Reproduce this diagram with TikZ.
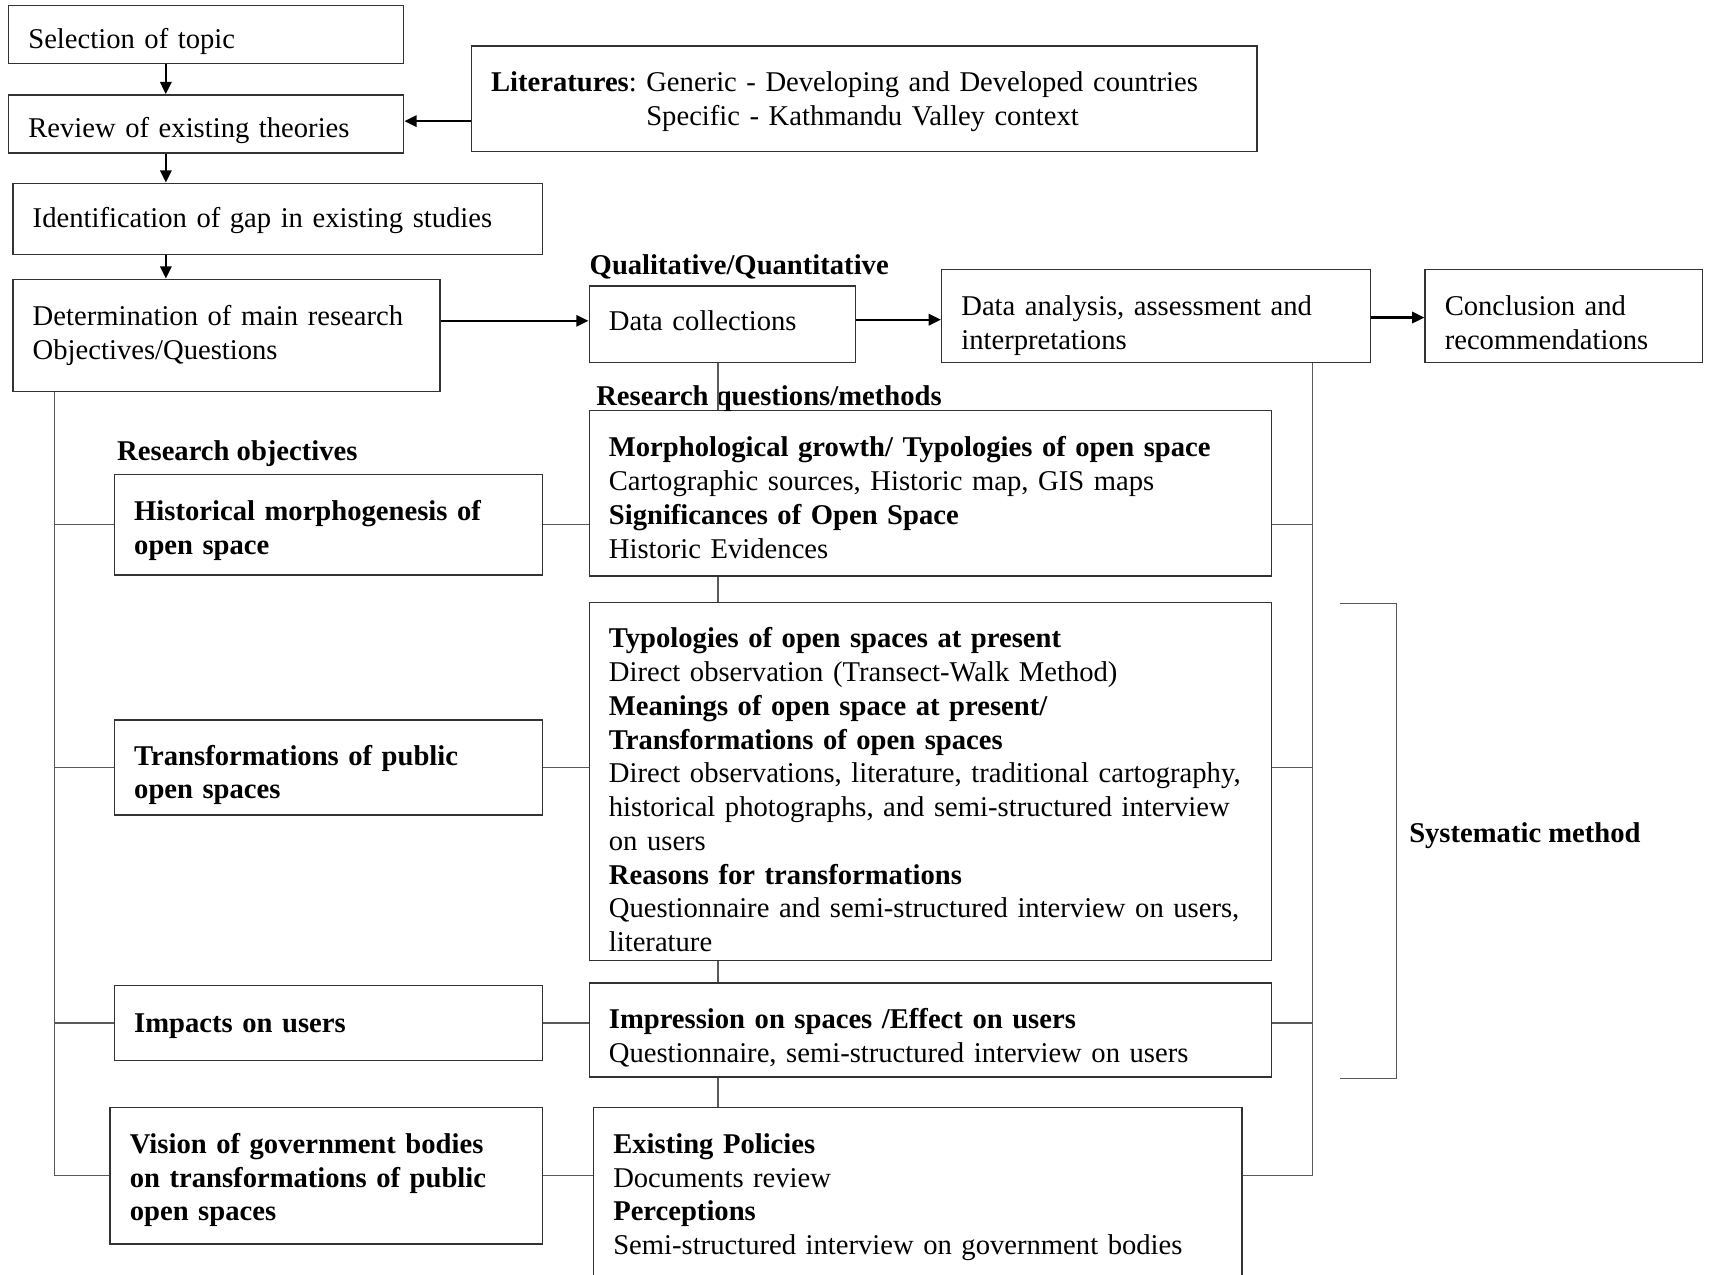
\documentclass[tikz,border=0pt]{standalone}
\usepackage{fontspec}
\setmainfont{Liberation Serif}
\usetikzlibrary{arrows.meta}

% box given by its corners (x1,y1)-(x2,y2), text set flush left with 18-unit padding
\newcommand\flowbox[7][]{%
  \node[box,#1,
        minimum width={(#5-#3)*0.446pt},
        minimum height={(#6-#4)*0.446pt},
        text width={(#5-#3-36)*0.446pt}]
        (#2) at ({(#3+#5)/2},{(#4+#6)/2}) {#7};%
}

\begin{document}
\frenchspacing
\begin{tikzpicture}[x=0.446pt,y=-0.446pt,
  txt/.style={font=\fontsize{11.7}{13.8}\selectfont\frenchspacing},
  boldtxt/.style={font=\fontsize{11.7}{13.8}\selectfont\frenchspacing\bfseries},
  box/.style={txt,draw=black!80,line width=0.6pt,rectangle,
              inner xsep=8.03pt,inner ysep=0pt,align=left,
              execute at begin node={\hyphenpenalty=10000}},
  % a taller text box above the first baseline sets the text lower in its frame
  drop/.style={text height=#1},
  heading/.style={boldtxt,anchor=west,inner sep=0pt},
  arr/.style={line width=1pt,-{Triangle[length=5pt,width=4.6pt]}},
  link/.style={draw=black!65,line width=0.5pt}]

\clip (0,0) rectangle (1568,1168);
\fill[white] (0,0) rectangle (1568,1168);

% main sequence
\flowbox[drop=14.3pt]{A}{8}{5}{370}{58}{Selection of topic}
\flowbox[drop=13.5pt]{B}{8}{87}{370}{140}{Review of existing theories}
\flowbox[drop=9.9pt]{C}{12}{168}{497}{233}{Identification of gap in existing studies}
\flowbox{D}{12}{256}{403}{359}{Determination of main research\\Objectives/Questions}
\flowbox[drop=10.8pt]{Lit}{432}{42}{1152}{139}{\textbf{Literatures}: Generic - Developing and Developed countries\\
  \phantom{\textbf{Literatures}:~}Specific - Kathmandu Valley context}

\flowbox[drop=5.4pt]{DC}{540}{262}{784}{332}{Data collections}
\flowbox[drop=16.1pt]{DA}{863}{247}{1256}{332}{Data analysis, assessment and\\interpretations}
\flowbox[drop=13.5pt]{CR}{1306}{247}{1560}{332}{Conclusion and\\recommendations}

% research questions / methods
\flowbox[drop=11.7pt]{Morph}{540}{376}{1165}{528}{\textbf{Morphological growth/ Typologies of open space}\\
  Cartographic sources, Historic map, GIS maps\\
  \textbf{Significances of Open Space}\\
  Historic Evidences}
\flowbox[drop=15.2pt]{Trans}{540}{552}{1165}{880}{\textbf{Typologies of open spaces at present}\\
  Direct observation (Transect-Walk Method)\\
  \textbf{Meanings of open space at present/}\\
  \textbf{Transformations of open spaces}\\
  \mbox{Direct observations, literature, traditional cartography,}\\
  \mbox{historical photographs, and semi-structured interview}\\
  on users\\
  \textbf{Reasons for transformations}\\
  \mbox{Questionnaire and semi-structured interview on users,}\\
  literature}
\flowbox[drop=14.3pt]{Imp}{540}{901}{1165}{987}{\textbf{Impression on spaces /Effect on users}\\
  Questionnaire, semi-structured interview on users}
\flowbox[drop=11.7pt]{Pol}{544}{1015}{1138}{1171}{\textbf{Existing Policies}\\
  Documents review\\
  \textbf{Perceptions}\\
  Semi-structured interview on government bodies}

% research objectives
\flowbox[boldtxt,drop=12.6pt]{Hist}{105}{435}{497}{527}{Historical morphogenesis of\\open space}
\flowbox[boldtxt,drop=14.3pt]{TrO}{105}{660}{497}{747}{Transformations of public\\open spaces}
\flowbox[boldtxt,drop=9.9pt]{ImpO}{105}{903}{497}{972}{Impacts on users}
\flowbox[boldtxt,drop=11.7pt]{Vis}{101}{1015}{497}{1140}{Vision of government bodies\\on transformations of public\\open spaces}

% headings
\node[heading] (hQual) at (540,245) {Qualitative/Quantitative};
\node[heading] (hRQ) at (546,365) {Research questions/methods};
\node[heading] (hRO) at (107,416) {Research objectives};
\node[heading] (hSys) at (1291,766) {Systematic method};

% guide coordinates for the vertical runs
\coordinate (spine) at (152,0);
\coordinate (lx) at (50,0);
\coordinate (cx) at (658,0);
\coordinate (rx) at (1203,0);

% arrows
\draw[arr] (A.south -| spine) -- (B.north -| spine);
\draw[arr] (B.south -| spine) -- (C.north -| spine);
\draw[arr] (C.south -| spine) -- (D.north -| spine);
\draw[arr] (Lit.west |- 0,111) -- (B.east |- 0,111);
\draw[arr] (D.east |- 0,294) -- (DC.west |- 0,294);
\draw[arr] (DC.east |- 0,293) -- (DA.west |- 0,293);
\draw[arr] (DA.east |- 0,291) -- (CR.west |- 0,291);

% left spine to the objectives
\draw[link] (D.south -| lx) -- (lx |- Vis.west) -- (Vis.west);
\draw[link] (lx |- Hist.west) -- (Hist.west);
\draw[link] (lx |- TrO.west) -- (TrO.west);
\draw[link] (lx |- ImpO.west) -- (ImpO.west);

% objectives to methods
\draw[link] (Hist.east) -- (Hist.east -| Morph.west);
\draw[link] (TrO.east) -- (TrO.east -| Trans.west);
\draw[link] (ImpO.east) -- (ImpO.east -| Imp.west);
\draw[link] (Vis.east) -- (Vis.east -| Pol.west);

% central chain below data collections
\draw[link] (DC.south -| cx) -- (Morph.north -| cx);
\draw[link] (Morph.south -| cx) -- (Trans.north -| cx);
\draw[link] (Trans.south -| cx) -- (Imp.north -| cx);
\draw[link] (Imp.south -| cx) -- (Pol.north -| cx);

% right spine up to data analysis
\draw[link] (DA.south -| rx) -- (rx |- Vis.east);
\draw[link] (Hist.east -| Morph.east) -- (Hist.east -| rx);
\draw[link] (TrO.east -| Trans.east) -- (TrO.east -| rx);
\draw[link] (ImpO.east -| Imp.east) -- (ImpO.east -| rx);
\draw[link] (Vis.east -| Pol.east) -- (Vis.east -| rx);

% bracket for the systematic method
\draw[link] (1228,553) -- (1280,553) -- (1280,988) -- (1228,988);

\end{tikzpicture}
\end{document}
